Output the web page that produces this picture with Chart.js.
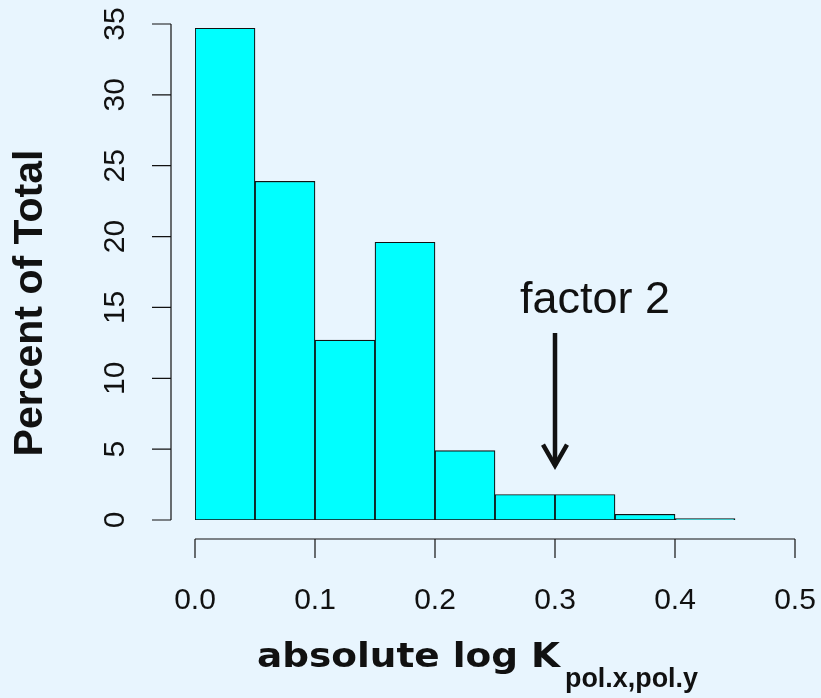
<!DOCTYPE html>
<html>
<head>
<meta charset="utf-8">
<script src="https://cdn.jsdelivr.net/npm/chart.js@4/dist/chart.umd.min.js"></script>
<style>
  html, body { margin: 0; padding: 0; background: #e8f5fe; }
  #wrap { width: 821px; height: 698px; }
</style>
</head>
<body>
<div id="wrap"><canvas id="hist" width="821" height="698"></canvas></div>
<script>
// histogram bins (left edges) and percent of total
const binStarts = [0.00, 0.05, 0.10, 0.15, 0.20, 0.25, 0.30, 0.35, 0.40];
const binWidth = 0.05;
const percents = [34.7, 23.9, 12.7, 19.6, 4.9, 1.8, 1.8, 0.4, 0.1];
const xTicks = [0.0, 0.1, 0.2, 0.3, 0.4, 0.5];
const yTicks = [0, 5, 10, 15, 20, 25, 30, 35];
// annotation arrow: x position and y from/to
const arrowX = 0.3;
const arrowFrom = 13.2;
const arrowTo = 3.7;

const ink = '#111';

// draw text squeezed/stretched horizontally into [x0, x1]
function fitText(ctx, text, font, x0, x1, y) {
    ctx.font = font;
    const w = ctx.measureText(text).width;
    ctx.save();
    ctx.translate(x0, y);
    ctx.scale((x1 - x0) / w, 1);
    ctx.fillText(text, 0, 0);
    ctx.restore();
}

const axesPlugin = {
    id: 'rAxes',
    afterDraw(chart) {
        const ctx = chart.ctx;
        const xs = chart.scales.x;
        const ys = chart.scales.y;
        ctx.save();
        ctx.strokeStyle = ink;
        ctx.fillStyle = ink;
        ctx.lineWidth = 1.2;

        // y axis (detached, left of the bars)
        const yAxisX = 171;
        ctx.beginPath();
        ctx.moveTo(yAxisX, ys.getPixelForValue(yTicks[0]));
        ctx.lineTo(yAxisX, ys.getPixelForValue(yTicks[yTicks.length - 1]));
        yTicks.forEach(v => {
            const py = ys.getPixelForValue(v);
            ctx.moveTo(yAxisX, py);
            ctx.lineTo(yAxisX - 19, py);
        });
        ctx.stroke();
        ctx.font = '30px "Liberation Sans", Arial, sans-serif';
        ctx.textAlign = 'center';
        ctx.textBaseline = 'middle';
        yTicks.forEach(v => {
            const py = ys.getPixelForValue(v);
            ctx.save();
            ctx.translate(115, py);
            ctx.rotate(-Math.PI / 2);
            ctx.fillText(String(v), 0, 1);
            ctx.restore();
        });

        // x axis (detached, below the bars)
        const xAxisY = 539;
        ctx.beginPath();
        ctx.moveTo(xs.getPixelForValue(xTicks[0]), xAxisY);
        ctx.lineTo(xs.getPixelForValue(xTicks[xTicks.length - 1]), xAxisY);
        xTicks.forEach(v => {
            const px = xs.getPixelForValue(v);
            ctx.moveTo(px, xAxisY);
            ctx.lineTo(px, xAxisY + 19);
        });
        ctx.stroke();
        xTicks.forEach(v => {
            ctx.fillText(v.toFixed(1), xs.getPixelForValue(v), 601);
        });

        // y title
        ctx.save();
        ctx.translate(31, 303);
        ctx.rotate(-Math.PI / 2);
        ctx.font = 'bold 41px "Liberation Sans", Arial, sans-serif';
        ctx.fillText('Percent of Total', 0, 0);
        ctx.restore();

        // x title with subscript
        ctx.textAlign = 'left';
        ctx.textBaseline = 'alphabetic';
        fitText(ctx, 'absolute log K', 'bold 34px "DejaVu Sans", sans-serif', 257, 560, 667);
        fitText(ctx, 'pol.x,pol.y', 'bold 28px "Liberation Sans", Arial, sans-serif', 565, 698, 687);

        // annotation
        ctx.font = '45px "Liberation Sans", Arial, sans-serif';
        ctx.textAlign = 'center';
        ctx.fillText('factor 2', 595, 313);
        const ax = xs.getPixelForValue(arrowX);
        const ay0 = ys.getPixelForValue(arrowFrom);
        const ay1 = ys.getPixelForValue(arrowTo);
        ctx.lineWidth = 4.5;
        ctx.lineCap = 'butt';
        ctx.beginPath();
        ctx.moveTo(ax, ay0);
        ctx.lineTo(ax, ay1 - 2);
        ctx.stroke();
        ctx.lineJoin = 'miter';
        ctx.beginPath();
        ctx.moveTo(ax - 12, ay1 - 23);
        ctx.lineTo(ax, ay1 - 2);
        ctx.lineTo(ax + 12, ay1 - 23);
        ctx.stroke();

        ctx.restore();
    }
};

new Chart(document.getElementById('hist'), {
    type: 'bar',
    data: {
        datasets: [{
            data: binStarts.map((s, i) => ({ x: s + binWidth / 2, y: percents[i] })),
            backgroundColor: '#00ffff',
            borderColor: ink,
            borderWidth: 1.2,
            borderSkipped: false,
            barPercentage: 1.0,
            categoryPercentage: 1.0
        }]
    },
    options: {
        responsive: false,
        animation: false,
        layout: { padding: { left: 195, right: 26, top: 24, bottom: 178 } },
        plugins: { legend: { display: false }, tooltip: { enabled: false } },
        scales: {
            x: { type: 'linear', min: 0, max: 0.5, display: false, offset: false },
            y: { min: 0, max: 35, display: false }
        }
    },
    plugins: [axesPlugin]
});
</script>
</body>
</html>
